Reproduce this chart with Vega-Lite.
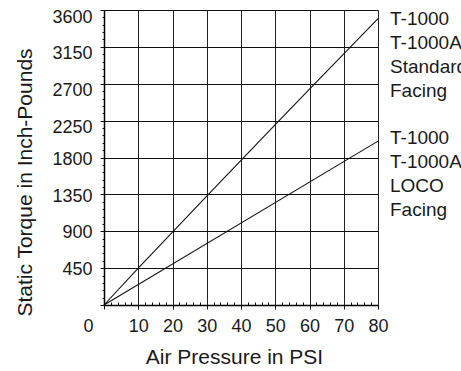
{
  "$schema": "https://vega.github.io/schema/vega-lite/v6.json",
  "width": 274,
  "height": 295,
  "autosize": {"type": "none"},
  "padding": {"left": 104, "top": 10, "right": 83, "bottom": 66},
  "background": "white",
  "config": {"view": {"stroke": null}, "font": "Liberation Sans"},
  "datasets": {
    "lines": [
      {"series": "Standard", "psi": 0, "torque": 0},
      {"series": "Standard", "psi": 10, "torque": 450},
      {"series": "Standard", "psi": 20, "torque": 890},
      {"series": "Standard", "psi": 30, "torque": 1330},
      {"series": "Standard", "psi": 40, "torque": 1765},
      {"series": "Standard", "psi": 50, "torque": 2200},
      {"series": "Standard", "psi": 60, "torque": 2635},
      {"series": "Standard", "psi": 70, "torque": 3065},
      {"series": "Standard", "psi": 80, "torque": 3495},
      {"series": "LOCO", "psi": 0, "torque": 0},
      {"series": "LOCO", "psi": 80, "torque": 2000}
    ],
    "labels": [
      {"psi": 80, "torque": 3494, "text": "T-1000\nT-1000A\nStandard\nFacing"},
      {"psi": 80, "torque": 2040, "text": "T-1000\nT-1000A\nLOCO\nFacing"}
    ]
  },
  "resolve": {"axis": {"x": "independent", "y": "independent"}},
  "layer": [
    {
      "data": {"name": "lines"},
      "mark": {"type": "line", "color": "#111", "strokeWidth": 1.1},
      "encoding": {
        "x": {
          "field": "psi",
          "type": "quantitative",
          "scale": {"domain": [0, 80], "nice": false},
          "axis": {
            "orient": "bottom",
            "values": [0, 10, 20, 30, 40, 50, 60, 70, 80],
            "title": "Air Pressure in PSI",
            "titleFontSize": 21,
            "titleFontWeight": "normal",
            "titleColor": "#1a1a1a",
            "titlePadding": 11,
            "titleX": 130,
            "labelFontSize": 18,
            "labelColor": "#1a1a1a",
            "labelOverlap": false,
            "labelFlush": false,
            "labelPadding": 8,
            "labelOffset": {"condition": {"test": "datum.value == 0", "value": -16}, "value": 0},
            "grid": true,
            "gridColor": "#222",
            "gridWidth": 1,
            "tickColor": "#111",
            "tickSize": 4,
            "domainColor": "#000",
            "domainWidth": 1.5
          }
        },
        "y": {
          "field": "torque",
          "type": "quantitative",
          "scale": {"domain": [0, 3600], "nice": false},
          "axis": {
            "orient": "left",
            "values": [0, 450, 900, 1350, 1800, 2250, 2700, 3150, 3600],
            "format": "d",
            "title": "Static Torque in Inch-Pounds",
            "titleFontSize": 21,
            "titleFontWeight": "normal",
            "titleColor": "#1a1a1a",
            "titlePadding": 16,
            "titleY": 172,
            "labelFontSize": 18,
            "labelColor": "#1a1a1a",
            "labelExpr": "datum.value > 0 ? datum.label : ''",
            "labelOverlap": false,
            "labelFlush": false,
            "labelPadding": 8,
            "labelOffset": {"condition": [{"test": "datum.value >= 2250", "value": 7}, {"test": "datum.value >= 1350", "value": 2}], "value": 1},
            "grid": true,
            "gridColor": "#111",
            "gridWidth": 1,
            "tickColor": "#111",
            "tickSize": 4,
            "domainColor": "#000",
            "domainWidth": 1.5
          }
        },
        "detail": {"field": "series", "type": "nominal"}
      }
    },
    {
      "data": {"name": "lines"},
      "mark": {"type": "point", "opacity": 0},
      "encoding": {
        "x": {
          "field": "psi",
          "type": "quantitative",
          "axis": {
            "orient": "bottom",
            "values": [2,4,6,8,12,14,16,18,22,24,26,28,32,34,36,38,42,44,46,48,52,54,56,58,62,64,66,68,72,74,76,78],
            "title": null,
            "labels": false,
            "grid": false,
            "domain": false,
            "tickColor": "#111",
            "tickSize": -3,
            "tickWidth": 1
          }
        },
        "y": {
          "field": "torque",
          "type": "quantitative",
          "axis": {
            "orient": "left",
            "values": [90,180,270,360,540,630,720,810,990,1080,1170,1260,1440,1530,1620,1710,1890,1980,2070,2160,2340,2430,2520,2610,2790,2880,2970,3060,3240,3330,3420,3510],
            "title": null,
            "labels": false,
            "grid": false,
            "domain": false,
            "tickColor": "#111",
            "tickSize": 2,
            "tickWidth": 1
          }
        }
      }
    },
    {
      "data": {"name": "labels"},
      "mark": {"type": "text", "align": "left", "baseline": "middle", "dx": 12, "lineBreak": "\n", "fontSize": 19, "lineHeight": 24, "color": "#1a1a1a"},
      "encoding": {
        "x": {"field": "psi", "type": "quantitative", "axis": null},
        "y": {"field": "torque", "type": "quantitative", "axis": null},
        "text": {"field": "text", "type": "nominal"}
      }
    }
  ]
}
